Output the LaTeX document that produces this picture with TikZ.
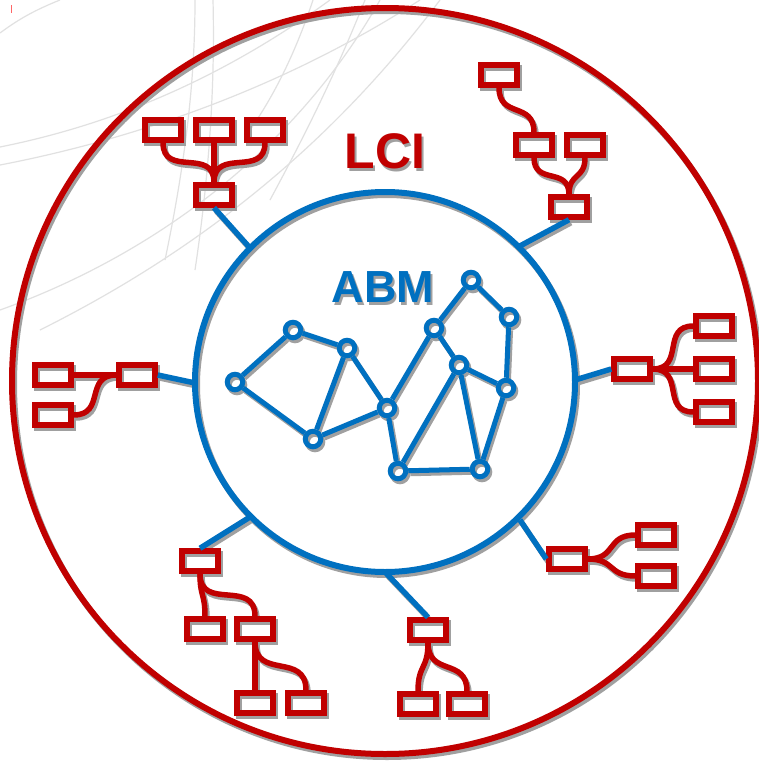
\documentclass[tikz,border=0pt]{standalone}
\usepackage{fontspec}
\newfontfamily\lsans{Liberation Sans}
\usetikzlibrary{calc}
\definecolor{cred}{RGB}{192,0,0}
\definecolor{cblue}{RGB}{0,112,192}
\definecolor{shadowc}{RGB}{160,160,160}
\definecolor{bgline}{RGB}{225,225,225}
\tikzset{
  rbox/.style={draw=cred, line width=5.5pt, minimum width=36pt, minimum height=20pt, inner sep=0pt},
  netnode/.style={circle, draw=cblue, line width=5pt, minimum size=15.5pt, inner sep=0pt},
  rlink/.style={draw=cred, line width=5.5pt},
  vlink/.style={out=-90, in=90, looseness=1.4},
  hlink/.style={out=0, in=180, looseness=1.4},
  blink/.style={draw=cblue, line width=5.5pt},
  netedge/.style={draw=cblue, line width=5pt},
  bigtext/.style={font=\lsans\bfseries\fontsize{#1}{#1}\selectfont, inner sep=0pt, anchor=base},
  bgarc/.style={draw=bgline, line width=1.2pt}
}
\newcommand\drawscene{%
  % outer and inner circles
  \node[circle, draw=cred, line width=6pt, minimum size=746pt, inner sep=0pt] (lci) at (385,-381) {};
  \node[circle, draw=cblue, line width=6pt, minimum size=380pt, inner sep=0pt] (abm) at (385,-382) {};
  \node[bigtext=50, text=cred] (lcit) at (385,-168) {LCI};
  \node[bigtext=45, text=cblue] (abmt) at (383,-302) {ABM};
  % points on the inner circle
  \coordinate (p1) at (250,-248);
  \coordinate (p2) at (518,-247);
  \coordinate (p3) at (195,-383);
  \coordinate (p4) at (575,-380);
  \coordinate (p5) at (520,-520);
  \coordinate (p6) at (250,-517);
  \coordinate (p7) at (385,-572);
  % group 1
  \node[rbox] (g1a) at (163,-130) {};
  \node[rbox] (g1b) at (214,-130) {};
  \node[rbox] (g1c) at (265,-130) {};
  \node[rbox] (g1d) at (214,-195) {};
  \draw[rlink] (g1a.south) to[vlink] (g1d.north);
  \draw[rlink] (g1b.south) to[vlink] (g1d.north);
  \draw[rlink] (g1c.south) to[vlink] (g1d.north);
  \draw[blink] (g1d.south) -- (p1);
  % group 2
  \node[rbox] (g2a) at (499,-75) {};
  \node[rbox] (g2b) at (534,-145) {};
  \node[rbox] (g2c) at (585,-145) {};
  \node[rbox] (g2d) at (569,-207) {};
  \draw[rlink] (g2a.south) to[vlink] (g2b.north);
  \draw[rlink] (g2b.south) to[vlink] (g2d.north);
  \draw[rlink] (g2c.south) to[vlink] (g2d.north);
  \draw[blink] (g2d.south) -- (p2);
  % group 3
  \node[rbox] (g3a) at (53,-375) {};
  \node[rbox] (g3b) at (53,-415) {};
  \node[rbox] (g3c) at (137,-375) {};
  \draw[rlink] (g3a.east) to[hlink] (g3c.west);
  \draw[rlink] (g3b.east) to[hlink] (g3c.west);
  \draw[blink] (g3c.east) -- (p3);
  % group 4
  \node[rbox] (g4m) at (632,-369) {};
  \node[rbox] (g4a) at (714,-326) {};
  \node[rbox] (g4b) at (714,-369) {};
  \node[rbox] (g4c) at (714,-412) {};
  \draw[rlink] (g4m.east) to[hlink] (g4a.west);
  \draw[rlink] (g4m.east) to[hlink] (g4b.west);
  \draw[rlink] (g4m.east) to[hlink] (g4c.west);
  \draw[blink] (g4m.west) -- (p4);
  % group 5
  \node[rbox] (g5m) at (567,-559) {};
  \node[rbox] (g5a) at (656,-535) {};
  \node[rbox] (g5b) at (656,-576) {};
  \draw[rlink] (g5m.east) to[hlink] (g5a.west);
  \draw[rlink] (g5m.east) to[hlink] (g5b.west);
  \draw[blink] (g5m.west) -- (p5);
  % group 6
  \node[rbox] (g6a) at (200,-561) {};
  \node[rbox] (g6b) at (205,-629) {};
  \node[rbox] (g6c) at (255,-629) {};
  \node[rbox] (g6d) at (255,-703) {};
  \node[rbox] (g6e) at (306,-703) {};
  \draw[rlink] (g6a.south) to[vlink] (g6b.north);
  \draw[rlink] (g6a.south) to[vlink] (g6c.north);
  \draw[rlink] (g6c.south) to[vlink] (g6d.north);
  \draw[rlink] (g6c.south) to[vlink] (g6e.north);
  \draw[blink] (g6a.north) -- (p6);
  % group 7
  \node[rbox] (g7a) at (428,-630) {};
  \node[rbox] (g7b) at (418,-704) {};
  \node[rbox] (g7c) at (467,-704) {};
  \draw[rlink] (g7a.south) to[vlink] (g7b.north);
  \draw[rlink] (g7a.south) to[vlink] (g7c.north);
  \draw[blink] (g7a.north) -- (p7);
  % network
  \node[netnode] (n1) at (235,-382) {};
  \node[netnode] (n2) at (293,-330) {};
  \node[netnode] (n3) at (347,-348) {};
  \node[netnode] (n4) at (313,-439) {};
  \node[netnode] (n5) at (387,-408) {};
  \node[netnode] (n6) at (434,-328) {};
  \node[netnode] (n7) at (471,-280) {};
  \node[netnode] (n8) at (509,-317) {};
  \node[netnode] (n9) at (459,-365) {};
  \node[netnode] (n10) at (506,-388) {};
  \node[netnode] (n11) at (398,-471) {};
  \node[netnode] (n12) at (480,-469) {};
  \draw[netedge] (n1) -- (n2);
  \draw[netedge] (n2) -- (n3);
  \draw[netedge] (n1) -- (n4);
  \draw[netedge] (n3) -- (n4);
  \draw[netedge] (n3) -- (n5);
  \draw[netedge] (n4) -- (n5);
  \draw[netedge] (n5) -- (n6);
  \draw[netedge] (n5) -- (n11);
  \draw[netedge] (n6) -- (n7);
  \draw[netedge] (n7) -- (n8);
  \draw[netedge] (n8) -- (n10);
  \draw[netedge] (n6) -- (n9);
  \draw[netedge] (n9) -- (n10);
  \draw[netedge] (n9) -- (n11);
  \draw[netedge] (n9) -- (n12);
  \draw[netedge] (n10) -- (n12);
  \draw[netedge] (n11) -- (n12);
}
\begin{document}
\begin{tikzpicture}[x=1pt, y=1pt]
  \useasboundingbox (0,0) rectangle (759,-763);
  \fill[white] (0,0) rectangle (759,-763);
  % faint background arcs
  \begin{scope}
    \clip (0,0) rectangle (759,-763);
    \draw[bgarc] (0,-33) .. controls (15,-22) and (30,-12) .. (60,0);
    \draw[bgarc] (0,-147) .. controls (110,-125) and (220,-80) .. (330,0);
    \draw[bgarc] (0,-165) .. controls (130,-140) and (280,-90) .. (420,0);
    \draw[bgarc] (195,0) .. controls (195,-70) and (188,-150) .. (165,-260);
    \draw[bgarc] (213,0) .. controls (215,-80) and (210,-170) .. (195,-270);
    \draw[bgarc] (0,-310) .. controls (140,-260) and (290,-160) .. (380,0);
    \draw[bgarc] (40,-330) .. controls (180,-260) and (320,-160) .. (440,0);
    \draw[bgarc] (313,0) .. controls (298,-45) and (278,-90) .. (250,-130);
    \draw[bgarc] (365,0) .. controls (335,-75) and (305,-135) .. (270,-200);
  \end{scope}
  \draw[red!60, line width=0.8pt] (11,-5) -- (11,-13);
  % shadow pass
  \begin{scope}[shift={(2,-3)}]
    \colorlet{cred}{shadowc}\colorlet{cblue}{shadowc}
    \drawscene
  \end{scope}
  % main pass
  \drawscene
\end{tikzpicture}
\end{document}
